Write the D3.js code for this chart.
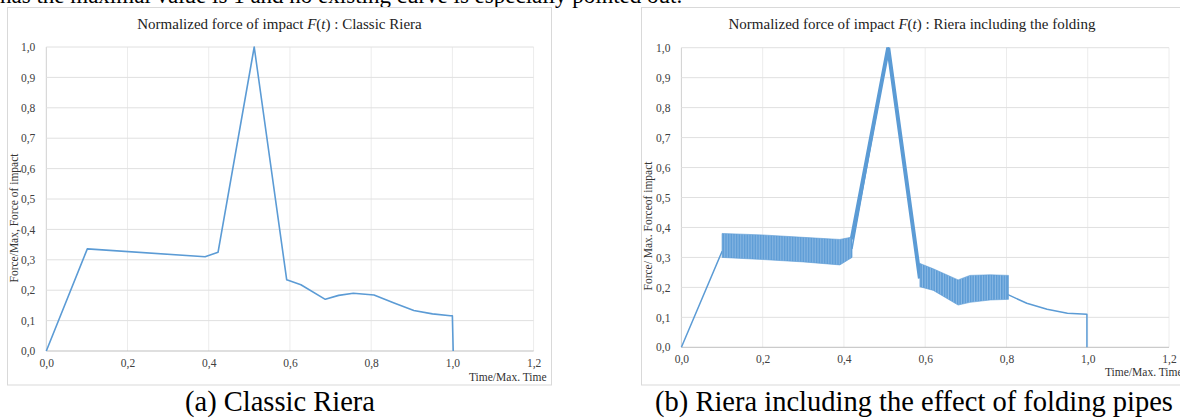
<!DOCTYPE html>
<html>
<head>
<meta charset="utf-8">
<script src="https://cdn.jsdelivr.net/npm/d3@7"></script>
<style>
  body { margin: 0; background: #fff; }
  svg { display: block; }
</style>
</head>
<body>
<svg id="fig" width="1180" height="419"></svg>
<script>
// tick labels (comma decimals as in the original)
var xTicks = [0, 0.2, 0.4, 0.6, 0.8, 1.0, 1.2];
var xTickLabels = ["0,0", "0,2", "0,4", "0,6", "0,8", "1,0", "1,2"];
var yTicks = [0, 0.1, 0.2, 0.3, 0.4, 0.5, 0.6, 0.7, 0.8, 0.9, 1.0];
var yTickLabels = ["0,0", "0,1", "0,2", "0,3", "0,4", "0,5", "0,6", "0,7", "0,8", "0,9", "1,0"];

// (a) classic Riera
var classicT = [0, 0.101, 0.391, 0.423, 0.512, 0.592, 0.627, 0.687, 0.72, 0.756, 0.807, 0.858, 0.905, 0.951, 0.995, 1.0, 1.002];
var classicF = [0, 0.336, 0.310, 0.325, 1.0, 0.234, 0.218, 0.170, 0.183, 0.190, 0.184, 0.157, 0.133, 0.122, 0.116, 0.116, 0];

// (b) Riera with folding: mid line
var foldT = [0, 0.1, 0.42, 0.509, 0.587, 0.68, 0.805, 0.85, 0.9, 0.95, 0.998, 0.998];
var foldF = [0, 0.32, 0.33, 1.0, 0.24, 0.18, 0.175, 0.147, 0.127, 0.114, 0.11, 0];
// thick jagged peak part
var peakT = [0.419, 0.509, 0.587];
var peakF = [0.36, 1.0, 0.23];
// oscillation bands (envelopes)
var band1T = [0.1, 0.2, 0.3, 0.39, 0.42];
var band1Hi = [0.38, 0.375, 0.367, 0.36, 0.368];
var band1Lo = [0.30, 0.293, 0.285, 0.275, 0.30];
var band2T = [0.587, 0.62, 0.681, 0.71, 0.76, 0.805];
var band2Hi = [0.28, 0.262, 0.225, 0.24, 0.242, 0.24];
var band2Lo = [0.202, 0.19, 0.141, 0.15, 0.158, 0.16];

var blue = "#5b9bd5";
var serif = "Liberation Serif";
var svg = d3.select("#fig").attr("font-family", serif);

// hatch patterns for the oscillating bands
var defs = svg.append("defs");
function hatch(id, w) {
    var p = defs.append("pattern").attr("id", id).attr("patternUnits", "userSpaceOnUse")
        .attr("width", w).attr("height", 10);
    p.append("rect").attr("width", w).attr("height", 10).attr("fill", "#8dbbe6");
    p.append("rect").attr("width", w * 0.6).attr("height", 10).attr("fill", blue);
}
hatch("h1", 1.6);
hatch("h2", 2.6);

// cut-off line of the surrounding text
svg.append("text").attr("x", 0).attr("y", 3).attr("font-size", 23)
    .attr("font-family", serif).attr("fill", "#000")
    .text("has the maximal value is 1 and no existing curve is especially pointed out.");

function panel(o) {
    var x = d3.scaleLinear().domain([0, 1.2]).range(o.xr);
    var y = d3.scaleLinear().domain([0, 1]).range(o.yr);
    var g = svg.append("g").attr("font-family", serif);

    g.append("rect").attr("x", o.frame[0]).attr("y", o.frame[1])
        .attr("width", o.frame[2]).attr("height", o.frame[3])
        .attr("fill", "#fff").attr("stroke", "#d9d9d9");

    // grid
    g.selectAll(".vg").data(xTicks).enter().append("line")
        .attr("x1", d => x(d)).attr("x2", d => x(d))
        .attr("y1", y(0)).attr("y2", y(1))
        .attr("stroke", (d, i) => i == 0 ? "#d0d0d0" : "#ececec");
    g.selectAll(".hg").data(yTicks).enter().append("line")
        .attr("x1", x(0)).attr("x2", x(1.2))
        .attr("y1", d => y(d)).attr("y2", d => y(d))
        .attr("stroke", (d, i) => i == 0 ? "#bfbfbf" : "#e0e0e0");

    // axes
    var xa = g.append("g").attr("transform", "translate(0," + (y(0) + 5) + ")")
        .call(d3.axisBottom(x).tickValues(xTicks).tickSize(0)
            .tickFormat((d, i) => xTickLabels[i]));
    var ya = g.append("g").attr("transform", "translate(" + (x(0) - 8) + ",0)")
        .call(d3.axisLeft(y).tickValues(yTicks).tickSize(0)
            .tickFormat((d, i) => yTickLabels[i]));
    [xa, ya].forEach(function (a) {
        a.attr("font-family", serif);
        a.select(".domain").remove();
        a.selectAll("text").attr("font-family", serif)
            .attr("font-size", 11.5).attr("fill", "#404040");
    });

    // title
    var t = g.append("text").attr("x", o.titleX).attr("y", 29).attr("font-family", serif)
        .attr("text-anchor", "middle").attr("font-size", 15).attr("fill", "#222");
    t.append("tspan").text("Normalized force of impact ");
    t.append("tspan").attr("font-style", "italic").text("F");
    t.append("tspan").text("(");
    t.append("tspan").attr("font-style", "italic").text("t");
    t.append("tspan").text(") : " + o.title);

    g.append("text").attr("x", o.xLabel[0]).attr("y", o.xLabel[1]).attr("font-family", serif)
        .attr("font-size", 11.5).attr("fill", "#333").text("Time/Max. Time");
    g.append("text").attr("transform", "translate(" + o.yLabel[0] + "," + o.yLabel[1] + ") rotate(-90)")
        .attr("text-anchor", "middle").attr("font-size", 11.5).attr("fill", "#333")
        .attr("font-family", serif).text(o.yText);

    // caption
    svg.append("text").attr("x", o.capX).attr("y", 411).attr("text-anchor", "middle")
        .attr("font-family", serif).attr("font-size", 28.5).attr("fill", "#000").text(o.caption);

    return { g: g, x: x, y: y };
}

var a = panel({
    xr: [46.3, 533.6], yr: [351, 47],
    frame: [7.5, 7.5, 544, 377.5],
    titleX: 279.5, title: "Classic Riera",
    xLabel: [469, 381], yLabel: [18, 218], yText: "Force/Max, Force of impact",
    capX: 280, caption: "(a) Classic Riera"
});
var lineA = d3.line().x((d, i) => a.x(classicT[i])).y(d => a.y(d));
a.g.append("path").attr("d", lineA(classicF)).attr("fill", "none")
    .attr("stroke", blue).attr("stroke-width", 1.6).attr("stroke-linejoin", "round");

var b = panel({
    xr: [681.4, 1169], yr: [347.3, 47.7],
    frame: [641.5, 7.5, 560, 377.5],
    titleX: 912, title: "Riera including the folding",
    xLabel: [1105, 376], yLabel: [652, 226], yText: "Force/ Max. Forceof impact",
    capX: 914, caption: "(b) Riera including the effect of folding pipes"
});
var lineB = d3.line().x((d, i) => b.x(foldT[i])).y(d => b.y(d));
b.g.append("path").attr("d", lineB(foldF)).attr("fill", "none")
    .attr("stroke", blue).attr("stroke-width", 1.5).attr("stroke-linejoin", "round");

var peakLine = d3.line().x((d, i) => b.x(peakT[i])).y(d => b.y(d));
b.g.append("path").attr("d", peakLine(peakF)).attr("fill", "none")
    .attr("stroke", blue).attr("stroke-width", 4).attr("stroke-linejoin", "miter");

function band(tt, hi, lo, pat) {
    var ar = d3.area().x((d, i) => b.x(tt[i])).y0((d, i) => b.y(lo[i])).y1(d => b.y(d));
    b.g.append("path").attr("d", ar(hi)).attr("fill", "url(#" + pat + ")")
        .attr("stroke", blue).attr("stroke-width", 0.6);
}
band(band1T, band1Hi, band1Lo, "h1");
band(band2T, band2Hi, band2Lo, "h2");
</script>
</body>
</html>
